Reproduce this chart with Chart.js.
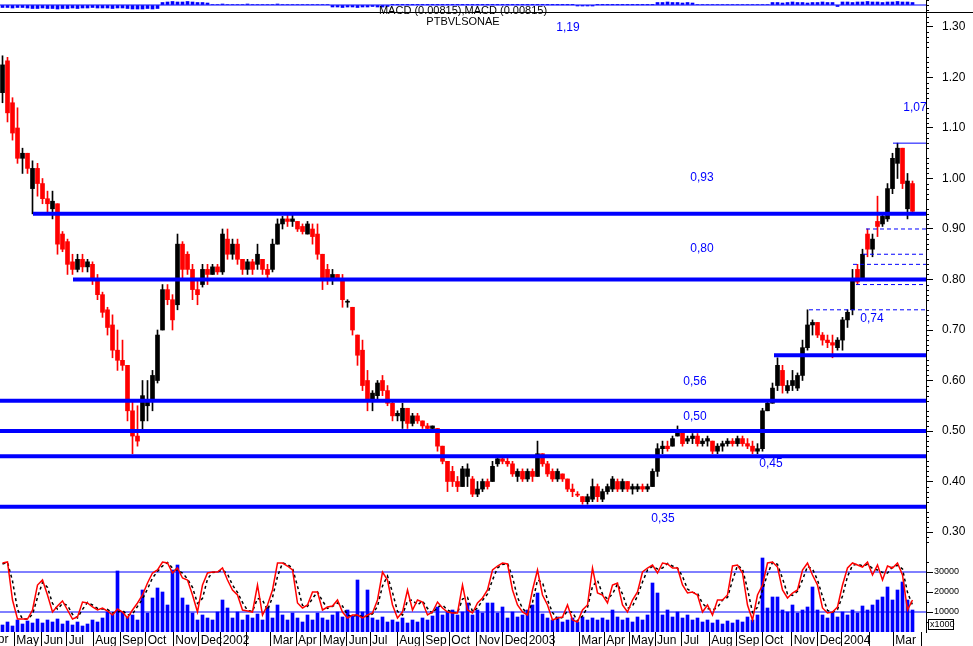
<!DOCTYPE html>
<html>
<head>
<meta charset="utf-8">
<script src="https://cdn.jsdelivr.net/npm/chart.js@4.4.1/dist/chart.umd.min.js"></script>
<style>
html,body{margin:0;padding:0;background:#fff;overflow:hidden}
#wrap{width:973px;height:646px;position:relative}
canvas{display:block}
</style>
</head>
<body>
<div id="wrap"><canvas id="c" width="973" height="646"></canvas></div>
<script>
// ---- price candles (one bar ≈ 4 trading days), Apr 2001 – Mar 2004 ----
const openP = [
1.17,1.233,1.15,1.10,1.04,1.05,0.98,1.02,0.99,0.96,
0.94,0.95,0.89,0.875,0.835,0.82,0.84,0.825,0.83,0.80,
0.77,0.74,0.71,0.66,0.64,0.63,0.54,0.49,0.52,0.55,
0.56,0.60,0.70,0.78,0.76,0.75,0.87,0.85,0.82,0.78,
0.79,0.82,0.81,0.825,0.815,0.88,0.85,0.87,0.84,0.82,
0.835,0.83,0.84,0.82,0.82,0.87,0.91,0.92,0.915,0.915,
0.905,0.89,0.90,0.89,0.85,0.82,0.80,0.81,0.80,0.755,
0.745,0.69,0.66,0.60,0.56,0.57,0.60,0.58,0.555,0.53,
0.52,0.545,0.515,0.53,0.52,0.51,0.505,0.505,0.47,0.44,
0.42,0.40,0.39,0.41,0.405,0.375,0.385,0.40,0.40,0.435,
0.445,0.44,0.435,0.41,0.42,0.405,0.42,0.41,0.455,0.435,
0.42,0.405,0.415,0.405,0.385,0.375,0.37,0.36,0.365,0.39,
0.365,0.38,0.385,0.40,0.385,0.40,0.385,0.385,0.39,0.385,
0.39,0.42,0.465,0.47,0.47,0.49,0.50,0.48,0.485,0.49,
0.475,0.48,0.48,0.46,0.47,0.475,0.48,0.475,0.485,0.475,
0.47,0.46,0.465,0.54,0.555,0.59,0.62,0.58,0.59,0.585,
0.61,0.665,0.71,0.715,0.69,0.68,0.675,0.665,0.68,0.72,
0.74,0.82,0.80,0.89,0.86,0.915,0.91,0.92,0.98,1.03,
1.06,0.94,0.99];
const highP = [
1.243,1.240,1.16,1.14,1.06,1.05,1.035,1.03,1.00,0.975,
0.975,0.95,0.895,0.88,0.85,0.85,0.85,0.84,0.835,0.81,
0.775,0.745,0.73,0.70,0.68,0.63,0.56,0.55,0.60,0.60,
0.62,0.70,0.79,0.79,0.77,0.89,0.875,0.855,0.83,0.80,
0.83,0.83,0.83,0.83,0.90,0.90,0.88,0.88,0.84,0.84,
0.84,0.87,0.84,0.83,0.88,0.92,0.925,0.93,0.93,0.915,
0.91,0.915,0.91,0.91,0.85,0.83,0.82,0.81,0.81,0.76,
0.745,0.69,0.68,0.62,0.58,0.60,0.61,0.59,0.56,0.54,
0.555,0.545,0.535,0.535,0.52,0.515,0.51,0.505,0.47,0.44,
0.43,0.41,0.43,0.435,0.41,0.40,0.405,0.405,0.44,0.45,
0.45,0.45,0.44,0.425,0.425,0.425,0.425,0.48,0.455,0.44,
0.425,0.425,0.415,0.405,0.395,0.38,0.37,0.375,0.405,0.395,
0.385,0.395,0.41,0.405,0.405,0.40,0.395,0.395,0.395,0.395,
0.425,0.475,0.48,0.48,0.49,0.51,0.50,0.49,0.495,0.495,
0.485,0.49,0.48,0.475,0.48,0.485,0.485,0.49,0.49,0.485,
0.48,0.475,0.545,0.56,0.595,0.645,0.63,0.60,0.62,0.615,
0.68,0.74,0.72,0.715,0.695,0.69,0.69,0.685,0.725,0.74,
0.82,0.83,0.86,0.90,0.89,0.965,0.93,0.99,1.05,1.07,
1.06,1.01,0.995];
const lowP = [
1.15,1.112,1.076,1.03,1.01,1.01,0.93,0.965,0.95,0.93,
0.92,0.85,0.855,0.81,0.81,0.815,0.815,0.815,0.79,0.76,
0.725,0.69,0.645,0.62,0.62,0.52,0.455,0.47,0.50,0.52,
0.54,0.595,0.70,0.75,0.70,0.74,0.80,0.81,0.76,0.75,
0.785,0.79,0.81,0.81,0.81,0.84,0.84,0.83,0.81,0.81,
0.81,0.82,0.81,0.80,0.815,0.87,0.90,0.905,0.905,0.895,
0.89,0.89,0.87,0.84,0.78,0.79,0.79,0.80,0.745,0.745,
0.69,0.63,0.58,0.54,0.54,0.56,0.57,0.55,0.52,0.52,
0.505,0.505,0.51,0.515,0.505,0.50,0.50,0.46,0.435,0.38,
0.39,0.38,0.39,0.39,0.37,0.37,0.38,0.385,0.40,0.43,
0.435,0.43,0.41,0.40,0.40,0.40,0.40,0.41,0.43,0.41,
0.40,0.40,0.40,0.38,0.37,0.37,0.355,0.355,0.36,0.36,
0.36,0.375,0.38,0.38,0.38,0.38,0.375,0.38,0.38,0.38,
0.39,0.41,0.455,0.46,0.47,0.49,0.47,0.475,0.475,0.47,
0.47,0.47,0.455,0.455,0.46,0.47,0.47,0.47,0.47,0.465,
0.455,0.455,0.46,0.54,0.555,0.58,0.575,0.575,0.58,0.58,
0.60,0.66,0.69,0.685,0.67,0.665,0.645,0.66,0.66,0.705,
0.73,0.79,0.80,0.845,0.845,0.885,0.905,0.915,0.97,1.00,
0.98,0.92,0.93];
const closeP = [
1.225,1.13,1.09,1.04,1.05,1.02,1.02,0.99,0.96,0.95,
0.955,0.87,0.86,0.83,0.82,0.84,0.825,0.835,0.80,0.77,
0.735,0.705,0.66,0.64,0.63,0.54,0.49,0.48,0.57,0.56,
0.61,0.69,0.78,0.76,0.72,0.87,0.82,0.82,0.78,0.77,
0.82,0.81,0.825,0.815,0.89,0.85,0.87,0.84,0.82,0.835,
0.82,0.85,0.82,0.81,0.87,0.91,0.92,0.915,0.92,0.90,
0.895,0.91,0.885,0.85,0.80,0.80,0.81,0.80,0.76,0.757,
0.70,0.65,0.59,0.56,0.575,0.595,0.58,0.555,0.53,0.535,
0.545,0.515,0.53,0.52,0.51,0.505,0.51,0.47,0.44,0.40,
0.40,0.39,0.425,0.425,0.375,0.385,0.40,0.39,0.43,0.445,
0.44,0.435,0.415,0.42,0.405,0.42,0.41,0.455,0.435,0.415,
0.405,0.42,0.405,0.385,0.38,0.373,0.36,0.37,0.39,0.37,
0.38,0.39,0.405,0.385,0.40,0.385,0.39,0.39,0.385,0.39,
0.42,0.465,0.47,0.465,0.485,0.50,0.475,0.485,0.49,0.475,
0.48,0.485,0.46,0.47,0.475,0.48,0.475,0.485,0.475,0.47,
0.46,0.465,0.54,0.555,0.585,0.63,0.59,0.59,0.60,0.61,
0.665,0.71,0.715,0.69,0.68,0.675,0.67,0.68,0.72,0.735,
0.80,0.795,0.85,0.86,0.88,0.905,0.925,0.98,1.04,1.06,
0.99,0.995,0.935];

// ---- volume (shares) ----
const volume = [
3500,5000,3000,6000,4000,5500,4500,6500,4500,6000,
5000,6500,4000,5500,3500,5000,3000,4000,6000,5000,
7000,10000,9000,30500,10000,7500,8500,6000,21000,9500,
17000,22000,20000,13500,31000,33500,17000,13500,9500,6000,
8500,7000,6000,10000,16000,12000,7000,10000,6000,8500,
7000,9000,6000,12500,7000,13500,8500,6000,9500,7000,
5000,8500,6000,9500,7000,6000,8500,10000,7500,11000,
8000,26000,10000,21000,7000,6000,7500,5000,6000,5000,
7000,4500,6000,5000,7000,6000,8000,12500,8500,10000,
11000,8500,10000,14500,8500,11000,9500,14500,14500,9500,
12500,7000,10000,7500,8500,11000,13500,19500,9000,7000,
6000,7500,5000,6000,7000,5000,7500,6000,7000,6000,
7000,6000,11000,7500,6000,7000,5000,7500,6000,8500,
24500,19500,8500,11000,7500,10000,7000,8500,6000,7000,
5000,6000,4500,6000,4000,5500,4500,6000,5000,7500,
6000,8500,37000,12000,17500,17500,11000,10000,13500,9500,
11000,12500,22500,11000,8500,7000,9500,7500,10000,8500,
11000,9500,13000,11000,13500,16000,17500,22500,16000,21000,
25000,16000,11000];

// ---- oscillator (fast red line, slow black dashed), in lower-panel units ----
const oscFast = [
34500,35000,16000,6500,6500,6500,11000,23500,26000,18500,
10000,13000,15500,11000,6500,7500,15000,14500,12500,11000,
12000,10500,8500,11500,10000,7000,11000,14500,18500,24500,
29500,31000,35000,34500,29500,32000,27000,26000,18500,10000,
23500,29500,30000,30000,32000,26000,21000,18500,11000,10500,
10000,23500,8500,13500,21000,34500,34500,33000,31000,14500,
12000,13500,20000,20000,11000,12500,13000,16000,10000,7000,
8500,8500,7000,8500,9500,16000,30000,26000,13500,7000,
10000,21000,11000,16000,15000,8500,10000,15000,12000,10000,
9500,9500,23500,11000,9500,14500,17000,21000,31000,33000,
34500,34000,21000,13500,10000,8500,21000,31000,18500,13500,
6000,7000,7500,13500,6000,5000,11000,13500,32000,19500,
18500,14500,23500,24500,13500,10000,16000,20000,30000,32000,
33500,29500,34500,34000,32000,32000,23500,19500,20000,18500,
10000,13500,8500,16000,16000,18500,33000,33500,29500,13500,
6000,18500,23500,34500,35000,32500,21000,17000,19500,21000,
31000,34500,28500,23500,12000,9500,10000,12500,23500,32000,
34500,33500,32500,35000,28500,33500,26000,33000,32000,34500,
28500,11000,16000];
const oscSlow = [
34000,34800,25500,11300,6500,6500,8800,17300,24800,22300,
14300,11500,14300,13300,8800,7000,11300,14800,13500,11800,
11500,11300,9500,10000,10800,8500,9000,12800,16500,21500,
27000,30300,33000,34800,32000,30800,29500,26500,22300,14300,
16800,26500,29800,30000,31000,29000,23500,19800,14800,10800,
10300,16800,16000,11000,17300,27800,34500,33800,32000,22800,
13300,12800,16800,20000,15500,11800,12800,14500,13000,8500,
7800,8500,7800,7800,9000,12800,23000,28000,19800,10300,
8500,15500,16000,13500,15500,11800,9300,12500,13500,11000,
9800,9500,16500,17300,10300,12000,15800,19000,26000,32000,
33800,34300,27500,17300,11800,9300,14800,26000,24800,16000,
9800,6500,7300,10500,9800,5500,8000,12300,22800,25800,
19000,16500,19000,24000,19000,11800,13000,18000,25000,31000,
32800,31500,32000,34300,33000,32000,27800,21500,19800,19300,
14300,11800,11000,12300,16000,17300,25800,33300,31500,21500,
9800,12300,21000,29000,34800,33800,26800,19000,18300,20300,
26000,32800,31500,26000,17800,10800,9800,11300,18000,27800,
33300,34000,33000,33800,31800,31000,29800,29500,32500,33300,
31500,19800,13500];

// ---- MACD histogram (top strip) ----
const macdHist = [
-0.5,-0.5,-0.6,-0.5,-0.5,-0.6,-0.7,-0.7,-0.6,-0.7,
-0.7,-0.8,-0.7,-0.7,-0.6,-0.7,-0.6,-0.6,-0.5,-0.6,
-0.6,-0.6,-0.7,-0.6,-0.6,-0.7,-0.8,-0.8,-0.8,-0.7,
-0.8,-0.7,0.5,0.6,0.7,0.6,0.6,0.7,0.6,0.5,
0.5,0.4,0.1,0.1,0.2,0.1,0.1,0.1,0.1,0.2,
0.1,0.1,0.1,0.1,0.1,0.2,0.1,0.1,0.1,0.1,
0.1,0.1,0.1,0.1,0.1,0.1,-0.4,-0.4,-0.5,-0.4,
-0.4,-0.5,-0.4,-0.4,-0.3,-0.4,-0.4,-0.3,0.05,0.05,
0.05,0.05,0.05,0.05,0.05,0.05,0.05,0.05,0.05,0.05,
0.05,0.05,0.05,0.05,0.05,0.05,0.05,0.05,0.05,0.05,
0.05,0.05,0.05,0.05,0.05,0.05,0.05,0.05,0.05,0.05,
0.05,0.05,0.05,0.05,0.05,-0.2,-0.2,-0.2,-0.2,0.05,
0.05,0.05,0.05,0.05,0.05,0.05,0.05,0.05,0.05,0.05,
0.05,0.5,0.5,0.6,0.5,0.5,0.4,0.5,0.4,0.1,
0.1,0.1,0.1,0.1,0.1,0.1,0.1,0.1,0.1,0.1,
0.1,0.1,0.1,0.1,0.5,0.5,0.4,0.5,0.6,0.5,
0.5,0.4,0.5,0.5,0.6,0.5,0.5,-0.3,0.6,0.6,
0.5,0.6,0.6,0.7,0.6,0.6,0.5,0.6,0.6,0.7,
0.6,0.6,0.5];

// ---- axes: month ticks (in bar units) and labels ----
const monthTickPos = [2.36,7.84,12.84,18.16,23.5,28.64,34.16,39.24,43.64,48.84,53.64,58.7,63.64,68.84,73.5,78.96,84.16,89.36,94.84,100.04,104.84,110.16,115.36,120.36,125.3,130.5,135.84,141.36,146.7,152.04,157.84,163.04,167.84,173.36,178.16,183.84];
const monthLabels = ['May','Jun','Jul','Aug','Sep','Oct','Nov','Dec','2002','','Mar','Apr','May','Jun','Jul','Aug','Sep','Oct','Nov','Dec','2003','','Mar','Apr','May','Jun','Jul','Aug','Sep','Oct','Nov','Dec','2004','','Mar',''];
const priceTicks = [0.30,0.35,0.40,0.45,0.50,0.55,0.60,0.65,0.70,0.75,0.80,0.85,0.90,0.95,1.00,1.05,1.10,1.15,1.20,1.25,1.30];
const volTicks = [10000,20000,30000];

// ---- horizontal support/resistance levels ----
const levelValues = [0.93,0.80,0.65,0.56,0.50,0.45,0.35];
const levelStarts = [6.1,14.1,154.3,-0.5,-0.5,-0.5,-0.5];
const dashedValues = [0.90,0.85,0.83,0.79,0.74];
const dashedStarts = [172.7,172.1,170.1,170.7,161.3];
const peakValue = 1.07, peakStart = 178.1;
const oscLevels = [30000,10000];

// ---- level annotations ----
const noteTexts = ['1,19','1,07','0,93','0,80','0,74','0,56','0,50','0,45','0,35'];
const noteX = [113.1,182.5,139.9,139.9,173.9,138.5,138.5,153.7,132.1];
const noteY = [1.298,1.140,1.001,0.862,0.722,0.597,0.528,0.435,0.326];

const X_MIN = -0.5, X_MAX = 184.7;
const BLUE = '#0000ff', RED = '#ff0000', BLACK = '#000000';
const FONT = '"Liberation Sans", Arial, Helvetica, sans-serif';
Chart.defaults.font.family = FONT;

const idx = closeP.map((_, i) => i);
const candleColors = idx.map(i => closeP[i] < openP[i] ? RED : BLACK);

function hLine(v, from, width, color, dash, axis, order) {
  return {type:'line', data:[{x:from,y:v},{x:X_MAX,y:v}], borderColor:color, backgroundColor:color,
    borderWidth:width, borderDash:dash, pointRadius:0, yAxisID:axis, xAxisID:'x', order:order, tension:0};
}

const datasets = [];
levelValues.forEach((v,i)=>datasets.push(hLine(v, levelStarts[i], 4, BLUE, [], 'yPrice', 0)));
dashedValues.forEach((v,i)=>datasets.push(hLine(v, dashedStarts[i], 1, BLUE, [4,3], 'yPrice', 0)));
datasets.push(hLine(peakValue, peakStart, 1, BLUE, [], 'yPrice', 0));
datasets.push({type:'bar', data: idx.map(i=>({x:i, y:[openP[i], closeP[i]]})), backgroundColor:candleColors,
  barThickness:4, minBarLength:1, grouped:false, yAxisID:'yPrice', xAxisID:'x', order:2});
datasets.push({type:'bar', data: idx.map(i=>({x:i, y:[lowP[i], highP[i]]})), backgroundColor:candleColors,
  barThickness:1, grouped:false, yAxisID:'yPrice', xAxisID:'x', order:3});
datasets.push({type:'line', data: idx.map(i=>({x:i, y:oscFast[i]})), borderColor:RED, borderWidth:1.5,
  pointRadius:0, tension:0, yAxisID:'yVol', xAxisID:'x', order:1});
datasets.push({type:'line', data: idx.map(i=>({x:i, y:oscSlow[i]})), borderColor:BLACK, borderWidth:1.5, borderDash:[3,3],
  pointRadius:0, tension:0, yAxisID:'yVol', xAxisID:'x', order:1.5});
oscLevels.forEach(v=>datasets.push(hLine(v, X_MIN, 1, BLUE, [], 'yVol', 2.5)));
datasets.push({type:'bar', data: idx.map(i=>({x:i, y:volume[i]})), backgroundColor:BLUE,
  barThickness:3, grouped:false, yAxisID:'yVol', xAxisID:'x', order:5});
datasets.push({type:'bar', data: idx.map(i=>({x:i, y:macdHist[i]})), backgroundColor:BLUE,
  barThickness:3, grouped:false, yAxisID:'yMacd', xAxisID:'x', order:5});
datasets.push(hLine(0, X_MIN, 1, BLUE, [], 'yMacd', 4));

function zeroPad(s){ s.paddingTop=0; s.paddingBottom=0; s.paddingLeft=0; s.paddingRight=0; }

const decor = {
  id:'decor',
  afterDraw(chart){
    const ctx = chart.ctx;
    const xs = chart.scales.x, yp = chart.scales.yPrice, yv = chart.scales.yVol, ym = chart.scales.yMacd;
    ctx.save();
    // level notes
    ctx.fillStyle = BLUE; ctx.font = '12px ' + FONT; ctx.textAlign='center'; ctx.textBaseline='middle';
    noteTexts.forEach((t,i)=>ctx.fillText(t, xs.getPixelForValue(noteX[i]), yp.getPixelForValue(noteY[i])));
    // strip separator line
    ctx.strokeStyle = BLACK; ctx.lineWidth = 1;
    const yb = Math.round(ym.bottom) + 0.5;
    ctx.beginPath(); ctx.moveTo(0,yb); ctx.lineTo(chart.width,yb); ctx.stroke();
    // header texts
    ctx.fillStyle = BLACK; ctx.font = '11px ' + FONT; ctx.textAlign='center'; ctx.textBaseline='middle';
    ctx.fillText('MACD (0.00815),MACD (0.00815)', 463, 11);
    ctx.fillText('PTBVLSONAE', 463, 22);
    // minor ticks
    ctx.beginPath();
    for (let c = 28; c <= 132; c++) {
      if (c % 5 === 0) continue;
      const y = Math.round(yp.getPixelForValue(c/100)) + 0.5;
      if (y < yp.top || y > yp.bottom) continue;
      ctx.moveTo(yp.left, y); ctx.lineTo(yp.left + 3, y);
    }
    [5000,15000,25000,35000].forEach(v=>{ const y = Math.round(yv.getPixelForValue(v))+0.5; ctx.moveTo(yv.left,y); ctx.lineTo(yv.left+3,y); });
    ctx.stroke();
    // x1000 box
    ctx.strokeRect(928.5, 619.5, 25, 10);
    ctx.font = '9px ' + FONT; ctx.textAlign='left'; ctx.textBaseline='middle';
    ctx.fillText('x1000', 930, 625);
    // partial first month label
    ctx.font = '12px ' + FONT; ctx.textBaseline='top';
    ctx.fillText('Apr', xs.getPixelForValue(-2.96) + 2, 634);
    ctx.restore();
  }
};

new Chart(document.getElementById('c'), {
  type:'bar',
  data:{datasets},
  plugins:[decor],
  options:{
    responsive:false, animation:false, devicePixelRatio:1, events:[],
    layout:{padding:0, autoPadding:false},
    plugins:{legend:{display:false}, tooltip:{enabled:false}, title:{display:false}},
    scales:{
      x:{type:'linear', min:X_MIN, max:X_MAX, offset:false,
        grid:{display:true, drawOnChartArea:false, drawTicks:true, tickLength:14, color:BLACK, tickColor:BLACK, offset:false},
        border:{display:false},
        ticks:{autoSkip:false, maxRotation:0, minRotation:0, align:'start', padding:-13, labelOffset:2, color:BLACK,
          font:{size:12}, callback:(v,i)=>monthLabels[i]},
        afterBuildTicks:s=>{ s.ticks = monthTickPos.map(v=>({value:v})); },
        afterFit:s=>{ s.height = 14; zeroPad(s); }
      },
      yMacd:{type:'linear', position:'right', stack:'r', stackWeight:12, min:-1.4, max:1.0, offset:false,
        grid:{drawOnChartArea:false, tickLength:3, tickColor:BLACK}, border:{color:BLACK},
        ticks:{display:false},
        afterBuildTicks:s=>{ s.ticks = [-1,0,1].map(v=>({value:v})); },
        afterFit:s=>{ s.width = 47; zeroPad(s); }
      },
      yPrice:{type:'linear', position:'right', stack:'r', stackWeight:535, min:0.2703, max:1.3297, offset:false,
        grid:{drawOnChartArea:false, tickLength:7, tickColor:BLACK}, border:{color:BLACK},
        ticks:{padding:9, color:BLACK, font:{size:12}, callback:v=>Number(v).toFixed(2)},
        afterBuildTicks:s=>{ s.ticks = priceTicks.map(v=>({value:v})); },
        afterFit:s=>{ s.width = 47; zeroPad(s); }
      },
      yVol:{type:'linear', position:'right', stack:'r', stackWeight:85, min:0, max:42500, offset:false,
        grid:{drawOnChartArea:false, tickLength:7, tickColor:BLACK}, border:{color:BLACK},
        ticks:{padding:1, color:BLACK, font:{size:9}, callback:v=>String(v)},
        afterBuildTicks:s=>{ s.ticks = volTicks.map(v=>({value:v})); },
        afterFit:s=>{ s.width = 47; zeroPad(s); }
      }
    }
  }
});
</script>
</body>
</html>
